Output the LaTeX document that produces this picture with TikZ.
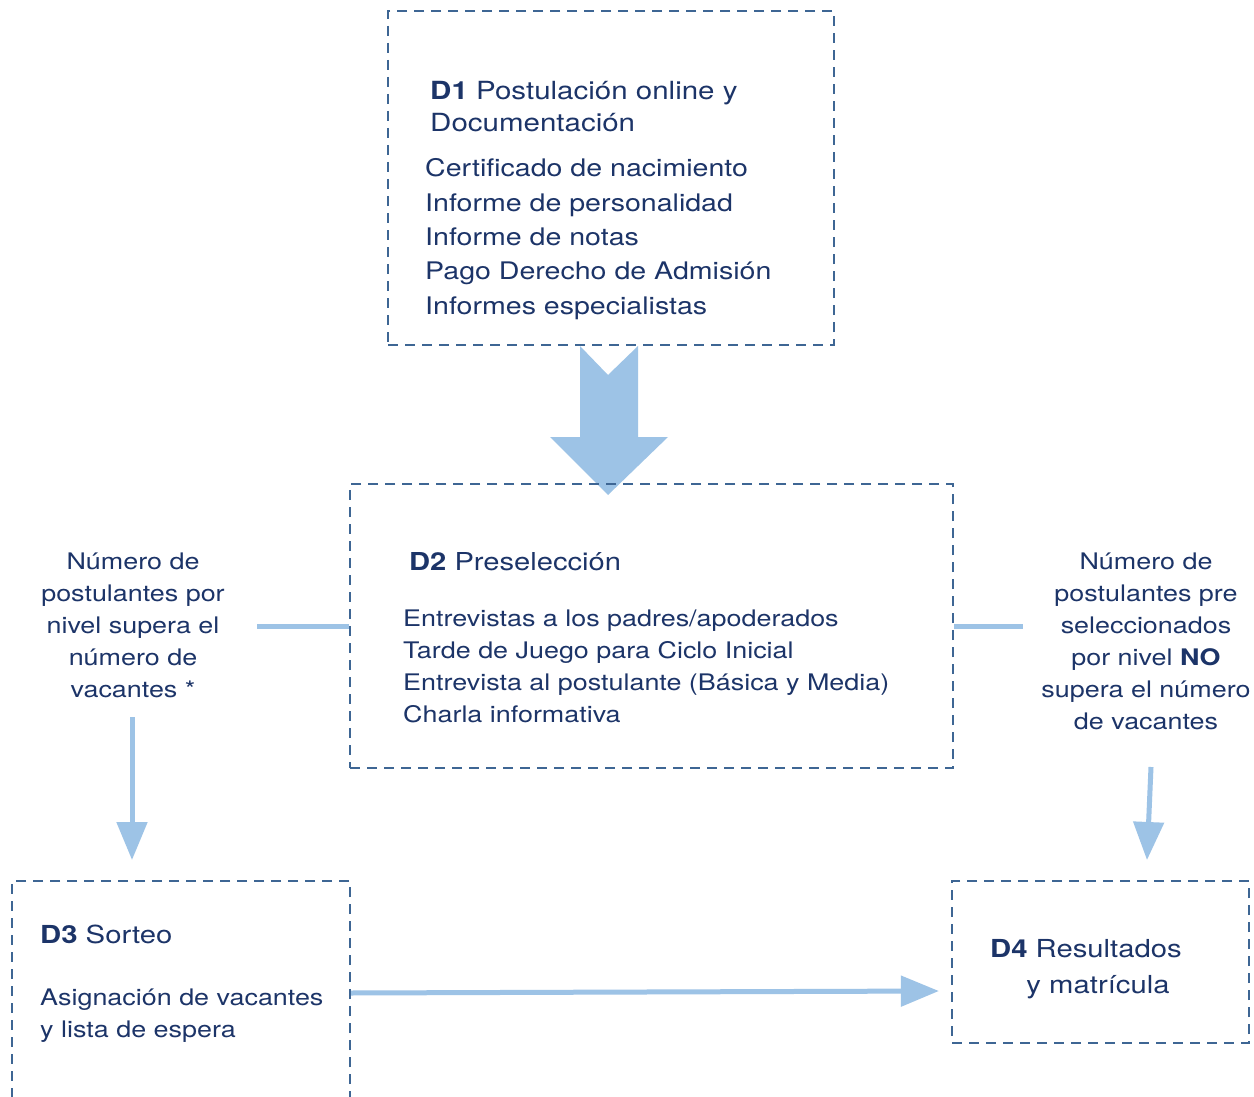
\documentclass[tikz,border=0pt]{standalone}
\usepackage{fontspec}
\setmainfont{TeX Gyre Heros}[FakeStretch=1.18]
\usetikzlibrary{arrows.meta}
\definecolor{txt}{RGB}{28,52,104}
\definecolor{brd}{RGB}{62,102,148}
\definecolor{arr}{RGB}{157,195,230}
\begin{document}
\begin{tikzpicture}[x=1pt,y=-1pt,
  box/.style={draw=brd, line width=2.2pt, dash pattern=on 10pt off 7pt, inner sep=0pt},
  lbl/.style={text=txt, inner sep=0pt, align=left, anchor=base west},
  clbl/.style={text=txt, inner sep=0pt, align=center, anchor=base},
  conn/.style={draw=arr, line width=5pt},
  arrowc/.style={conn, -{Triangle[width=30pt,length=38pt]}},
  fsa/.style={font=\fontsize{25}{32.5}\selectfont},
  fsb/.style={font=\fontsize{24.2}{34.3}\selectfont},
  fsc/.style={font=\fontsize{22.8}{32}\selectfont}]
\clip (0,0) rectangle (1254,1097);
\fill[white] (0,0) rectangle (1254,1097);
% big arrow D1 -> D2
\fill[arr] (580,346) -- (608,375) -- (638,346) -- (638,437) -- (668,437) -- (608,495) -- (550,437) -- (580,437) -- cycle;
% boxes
\node[box, minimum width=446pt, minimum height=334pt] (d1) at (611,178) {};
\node[box, minimum width=603pt, minimum height=284pt] (d2) at (651.5,626) {};
\node[box, minimum width=338pt, minimum height=239pt] (d3) at (181,1000.5) {};
\node[box, minimum width=297pt, minimum height=162pt] (d4) at (1100.5,962) {};
% texts (base anchor = baseline of last line)
\node[lbl, fsa] (d1t) at (430,131.7) {\textbf{D1} Postulación online y\\Documentación};
\node[lbl, fsb] (d1i) at (425,314) {Certificado de nacimiento\\Informe de personalidad\\Informe de notas\\Pago Derecho de Admisión\\Informes especialistas};
\node[lbl, font=\fontsize{24.7}{32}\selectfont] (d2t) at (409,570) {\textbf{D2} Preselección};
\node[lbl, fsc] (d2i) at (403,722) {Entrevistas a los padres/apoderados\\Tarde de Juego para Ciclo Inicial\\Entrevista al postulante (Básica y Media)\\Charla informativa};
\node[clbl, fsc] (lq) at (133,697) {Número de\\postulantes por\\nivel supera el\\número de\\vacantes *};
\node[clbl, fsc] (rq) at (1146,729) {Número de\\postulantes pre\\seleccionados\\por nivel \textbf{NO}\\supera el número\\de vacantes};
\node[lbl, font=\fontsize{24.8}{32}\selectfont] (d3t) at (40,943) {\textbf{D3} Sorteo};
\node[lbl, fsc] (d3i) at (40,1037) {Asignación de vacantes\\y lista de espera};
\node[clbl, font=\fontsize{24.8}{36}\selectfont] (d4t) at (1086,993) {\textbf{D4} Resultados\\\hspace*{24pt}y matrícula};
% connectors
\coordinate (lqe) at (257,626);
\coordinate (rqe) at (1023,626);
\coordinate (la1) at (132,717);
\coordinate (la2) at (132,860);
\coordinate (ra1) at (1151,767);
\coordinate (ra2) at (1147,860);
\draw[conn] (lqe) -- (d2.west);
\draw[conn] (d2.east) -- (rqe);
\draw[arrowc] (la1) -- (la2);
\draw[arrowc] (ra1) -- (ra2);
\draw[arrowc] ([yshift=7.5pt]d3.east) -- ([xshift=-12pt,yshift=-29pt]d4.west);
\end{tikzpicture}
\end{document}
